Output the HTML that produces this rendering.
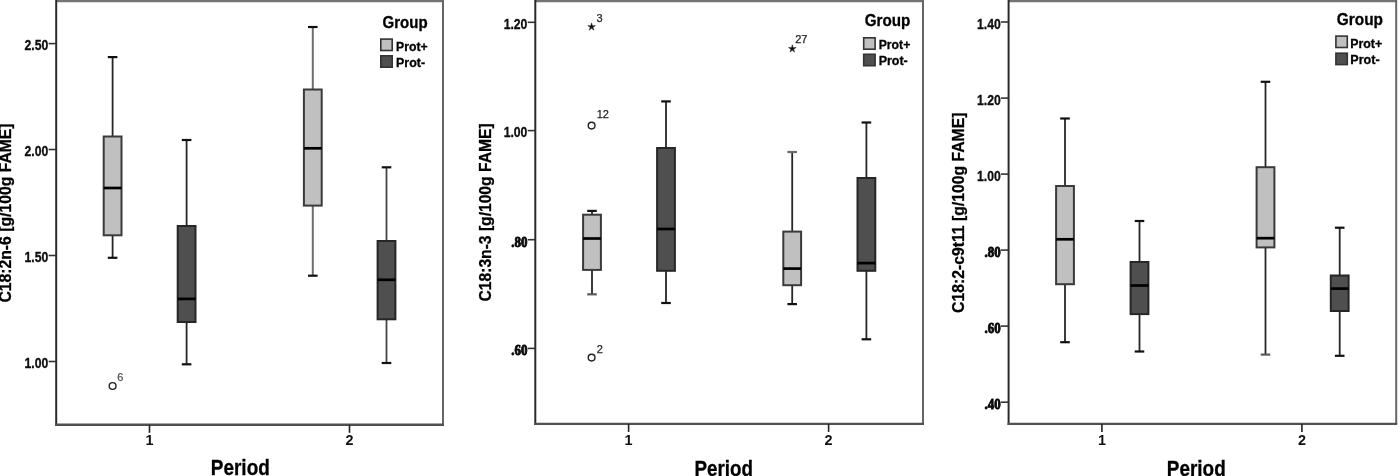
<!DOCTYPE html>
<html><head><meta charset="utf-8"><title>Boxplots</title>
<style>
html,body{margin:0;padding:0;background:#fff;}
body{width:1400px;height:476px;overflow:hidden;}
svg{display:block;filter:blur(0.35px);}
text{font-family:"Liberation Sans", sans-serif;}
.b{font-weight:bold;stroke:#000;stroke-width:0.3px;}
</style></head><body>
<svg width="1400" height="476" viewBox="0 0 1400 476">
<rect x="0" y="0" width="1400" height="476" fill="#fff"/>
<line x1="56.2" y1="1" x2="443" y2="1" stroke="#747474" stroke-width="2.4"/>
<line x1="443" y1="0" x2="443" y2="424.8" stroke="#666" stroke-width="2"/>
<line x1="56.2" y1="0" x2="56.2" y2="425.8" stroke="#2a2a2a" stroke-width="2"/>
<line x1="55.2" y1="424.8" x2="444" y2="424.8" stroke="#505050" stroke-width="2.4"/>
<line x1="48.6" y1="43.6" x2="56.2" y2="43.6" stroke="#333" stroke-width="1.6"/>
<text class="b" x="48.3" y="50.4" font-size="14.2" text-anchor="end" textLength="23.7" lengthAdjust="spacingAndGlyphs" fill="#111">2.50</text>
<line x1="48.6" y1="149.5" x2="56.2" y2="149.5" stroke="#333" stroke-width="1.6"/>
<text class="b" x="48.3" y="156.3" font-size="14.2" text-anchor="end" textLength="23.7" lengthAdjust="spacingAndGlyphs" fill="#111">2.00</text>
<line x1="48.6" y1="255.5" x2="56.2" y2="255.5" stroke="#333" stroke-width="1.6"/>
<text class="b" x="48.3" y="262.3" font-size="14.2" text-anchor="end" textLength="23.7" lengthAdjust="spacingAndGlyphs" fill="#111">1.50</text>
<line x1="48.6" y1="361.5" x2="56.2" y2="361.5" stroke="#333" stroke-width="1.6"/>
<text class="b" x="48.3" y="368.3" font-size="14.2" text-anchor="end" textLength="23.7" lengthAdjust="spacingAndGlyphs" fill="#111">1.00</text>
<line x1="149.5" y1="424.8" x2="149.5" y2="432.8" stroke="#222" stroke-width="1.6"/>
<text class="b" style="stroke-width:0" x="149.5" y="445.4" font-size="14.4" text-anchor="middle" fill="#111">1</text>
<line x1="349.5" y1="424.8" x2="349.5" y2="432.8" stroke="#222" stroke-width="1.6"/>
<text class="b" style="stroke-width:0" x="349.5" y="445.4" font-size="14.4" text-anchor="middle" fill="#111">2</text>
<text class="b" x="210.8" y="474.5" font-size="22" textLength="59" lengthAdjust="spacingAndGlyphs" fill="#000">Period</text>
<text class="b" transform="translate(11.3,302.6) rotate(-90)" x="0" y="0" font-size="17" textLength="179.2" lengthAdjust="spacingAndGlyphs" fill="#000">C18:2n-6 [g/100g FAME]</text>
<text class="b" x="382.5" y="27.6" font-size="16.4" textLength="45.1" lengthAdjust="spacingAndGlyphs" fill="#000">Group</text>
<rect x="380.8" y="39.1" width="11.4" height="11.4" fill="#c0c0c0" stroke="#333" stroke-width="1.6"/>
<text class="b" x="396" y="51" font-size="12.6" textLength="31.6" lengthAdjust="spacingAndGlyphs" fill="#000">Prot+</text>
<rect x="380.8" y="55.8" width="11.4" height="11.4" fill="#4f4f4f" stroke="#333" stroke-width="1.6"/>
<text class="b" x="396" y="67.2" font-size="12.6" textLength="29.07" lengthAdjust="spacingAndGlyphs" fill="#000">Prot-</text>
<line x1="112.6" y1="57.1" x2="112.6" y2="136.5" stroke="#262626" stroke-width="1.8"/>
<line x1="112.6" y1="235.3" x2="112.6" y2="257.8" stroke="#262626" stroke-width="1.8"/>
<line x1="107.8" y1="57.1" x2="117.4" y2="57.1" stroke="#111" stroke-width="2.2"/>
<line x1="107.8" y1="257.8" x2="117.4" y2="257.8" stroke="#111" stroke-width="2.2"/>
<rect x="103.7" y="136.5" width="17.8" height="98.8" fill="#c0c0c0" stroke="#3a3a3a" stroke-width="2"/>
<line x1="103.7" y1="188" x2="121.5" y2="188" stroke="#000" stroke-width="2.7"/>
<line x1="186.6" y1="140" x2="186.6" y2="226" stroke="#262626" stroke-width="1.8"/>
<line x1="186.6" y1="322" x2="186.6" y2="364.3" stroke="#262626" stroke-width="1.8"/>
<line x1="181.8" y1="140" x2="191.4" y2="140" stroke="#111" stroke-width="2.2"/>
<line x1="181.8" y1="364.3" x2="191.4" y2="364.3" stroke="#111" stroke-width="2.2"/>
<rect x="177.7" y="226" width="17.8" height="96" fill="#4f4f4f" stroke="#262626" stroke-width="2"/>
<line x1="177.7" y1="298.9" x2="195.5" y2="298.9" stroke="#000" stroke-width="2.7"/>
<line x1="312.8" y1="27" x2="312.8" y2="89.5" stroke="#6e6e6e" stroke-width="2.0"/>
<line x1="312.8" y1="205.6" x2="312.8" y2="275.7" stroke="#6e6e6e" stroke-width="2.0"/>
<line x1="308" y1="27" x2="317.6" y2="27" stroke="#111" stroke-width="2.2"/>
<line x1="308" y1="275.7" x2="317.6" y2="275.7" stroke="#111" stroke-width="2.2"/>
<rect x="303.9" y="89.5" width="17.8" height="116.1" fill="#c0c0c0" stroke="#3a3a3a" stroke-width="2"/>
<line x1="303.9" y1="148.3" x2="321.7" y2="148.3" stroke="#000" stroke-width="2.7"/>
<line x1="386.5" y1="167.3" x2="386.5" y2="241" stroke="#444" stroke-width="1.8"/>
<line x1="386.5" y1="319.3" x2="386.5" y2="363" stroke="#444" stroke-width="1.8"/>
<line x1="381.7" y1="167.3" x2="391.3" y2="167.3" stroke="#111" stroke-width="2.2"/>
<line x1="381.7" y1="363" x2="391.3" y2="363" stroke="#111" stroke-width="2.2"/>
<rect x="377.6" y="241" width="17.8" height="78.3" fill="#4f4f4f" stroke="#262626" stroke-width="2"/>
<line x1="377.6" y1="279.8" x2="395.4" y2="279.8" stroke="#000" stroke-width="2.7"/>
<circle cx="112.6" cy="386" r="3.4" fill="none" stroke="#222" stroke-width="1.4"/>
<text x="117.3" y="381.2" font-size="11" fill="#555" stroke="#555" stroke-width="0.25">6</text>
<line x1="535.3" y1="1" x2="923" y2="1" stroke="#747474" stroke-width="2.4"/>
<line x1="923" y1="0" x2="923" y2="423.9" stroke="#666" stroke-width="2"/>
<line x1="535.3" y1="0" x2="535.3" y2="424.9" stroke="#2a2a2a" stroke-width="2"/>
<line x1="534.3" y1="423.9" x2="924" y2="423.9" stroke="#505050" stroke-width="2.4"/>
<line x1="527.7" y1="22.3" x2="535.3" y2="22.3" stroke="#333" stroke-width="1.6"/>
<text class="b" x="527.4" y="29.1" font-size="14.2" text-anchor="end" textLength="23.7" lengthAdjust="spacingAndGlyphs" fill="#111">1.20</text>
<line x1="527.7" y1="130.6" x2="535.3" y2="130.6" stroke="#333" stroke-width="1.6"/>
<text class="b" x="527.4" y="137.4" font-size="14.2" text-anchor="end" textLength="23.7" lengthAdjust="spacingAndGlyphs" fill="#111">1.00</text>
<line x1="527.7" y1="239.7" x2="535.3" y2="239.7" stroke="#333" stroke-width="1.6"/>
<text class="b" style="font-family:'Liberation Serif',serif;stroke-width:0.9px" x="527.4" y="246.6" font-size="15.4" text-anchor="end" textLength="16.2" lengthAdjust="spacingAndGlyphs" fill="#111">.80</text>
<line x1="527.7" y1="348.4" x2="535.3" y2="348.4" stroke="#333" stroke-width="1.6"/>
<text class="b" style="font-family:'Liberation Serif',serif;stroke-width:0.9px" x="527.4" y="355.3" font-size="15.4" text-anchor="end" textLength="16.2" lengthAdjust="spacingAndGlyphs" fill="#111">.60</text>
<line x1="628.6" y1="423.9" x2="628.6" y2="431.9" stroke="#222" stroke-width="1.6"/>
<text class="b" style="stroke-width:0" x="628.6" y="444.8" font-size="14.4" text-anchor="middle" fill="#111">1</text>
<line x1="828.6" y1="423.9" x2="828.6" y2="431.9" stroke="#222" stroke-width="1.6"/>
<text class="b" style="stroke-width:0" x="828.6" y="444.8" font-size="14.4" text-anchor="middle" fill="#111">2</text>
<text class="b" x="694.6" y="476" font-size="22" textLength="58.4" lengthAdjust="spacingAndGlyphs" fill="#000">Period</text>
<text class="b" transform="translate(491,301.5) rotate(-90)" x="0" y="0" font-size="17" textLength="178.1" lengthAdjust="spacingAndGlyphs" fill="#000">C18:3n-3 [g/100g FAME]</text>
<text class="b" x="864.7" y="26" font-size="16.4" textLength="45.6" lengthAdjust="spacingAndGlyphs" fill="#000">Group</text>
<rect x="863.7" y="37.8" width="11.4" height="11.4" fill="#c0c0c0" stroke="#333" stroke-width="1.6"/>
<text class="b" x="878.7" y="48.8" font-size="12.6" textLength="31.6" lengthAdjust="spacingAndGlyphs" fill="#000">Prot+</text>
<rect x="863.7" y="54.3" width="11.4" height="11.4" fill="#4f4f4f" stroke="#333" stroke-width="1.6"/>
<text class="b" x="878.7" y="65" font-size="12.6" textLength="29.07" lengthAdjust="spacingAndGlyphs" fill="#000">Prot-</text>
<line x1="592" y1="210.9" x2="592" y2="214.7" stroke="#262626" stroke-width="1.8"/>
<line x1="592" y1="269.9" x2="592" y2="294.3" stroke="#262626" stroke-width="1.8"/>
<line x1="587.2" y1="210.9" x2="596.8" y2="210.9" stroke="#111" stroke-width="2.2"/>
<line x1="587.2" y1="294.3" x2="596.8" y2="294.3" stroke="#5a5a5a" stroke-width="2.2"/>
<rect x="583.1" y="214.7" width="17.8" height="55.2" fill="#c0c0c0" stroke="#3a3a3a" stroke-width="2"/>
<line x1="583.1" y1="238.5" x2="600.9" y2="238.5" stroke="#000" stroke-width="2.7"/>
<line x1="666" y1="101.4" x2="666" y2="148" stroke="#262626" stroke-width="1.8"/>
<line x1="666" y1="270.8" x2="666" y2="303" stroke="#262626" stroke-width="1.8"/>
<line x1="661.2" y1="101.4" x2="670.8" y2="101.4" stroke="#111" stroke-width="2.2"/>
<line x1="661.2" y1="303" x2="670.8" y2="303" stroke="#111" stroke-width="2.2"/>
<rect x="657.1" y="148" width="17.8" height="122.8" fill="#4f4f4f" stroke="#262626" stroke-width="2"/>
<line x1="657.1" y1="229" x2="674.9" y2="229" stroke="#000" stroke-width="2.7"/>
<line x1="792.2" y1="152" x2="792.2" y2="231.6" stroke="#262626" stroke-width="1.8"/>
<line x1="792.2" y1="285.2" x2="792.2" y2="304.1" stroke="#262626" stroke-width="1.8"/>
<line x1="787.4" y1="152" x2="797" y2="152" stroke="#6a6a6a" stroke-width="2.2"/>
<line x1="787.4" y1="304.1" x2="797" y2="304.1" stroke="#111" stroke-width="2.2"/>
<rect x="783.3" y="231.6" width="17.8" height="53.6" fill="#c0c0c0" stroke="#3a3a3a" stroke-width="2"/>
<line x1="783.3" y1="268.6" x2="801.1" y2="268.6" stroke="#000" stroke-width="2.7"/>
<line x1="866.4" y1="122.5" x2="866.4" y2="178" stroke="#262626" stroke-width="1.8"/>
<line x1="866.4" y1="270.8" x2="866.4" y2="339.3" stroke="#262626" stroke-width="1.8"/>
<line x1="861.6" y1="122.5" x2="871.2" y2="122.5" stroke="#111" stroke-width="2.2"/>
<line x1="861.6" y1="339.3" x2="871.2" y2="339.3" stroke="#111" stroke-width="2.2"/>
<rect x="857.5" y="178" width="17.8" height="92.8" fill="#4f4f4f" stroke="#262626" stroke-width="2"/>
<line x1="857.5" y1="263.1" x2="875.3" y2="263.1" stroke="#000" stroke-width="2.7"/>
<polygon points="591.60,22.90 592.39,25.81 595.40,25.66 592.88,27.32 593.95,30.14 591.60,28.25 589.25,30.14 590.32,27.32 587.80,25.66 590.81,25.81" fill="#111" stroke="#111" stroke-width="0.5" stroke-linejoin="miter"/>
<text x="596.6" y="22.4" font-size="11" fill="#222" stroke="#222" stroke-width="0.25">3</text>
<circle cx="591.6" cy="125.6" r="3.4" fill="none" stroke="#222" stroke-width="1.4"/>
<text x="596.7" y="118.4" font-size="11" fill="#222" stroke="#222" stroke-width="0.25">12</text>
<circle cx="591.6" cy="357.6" r="3.4" fill="none" stroke="#222" stroke-width="1.4"/>
<text x="596.7" y="353" font-size="11" fill="#222" stroke="#222" stroke-width="0.25">2</text>
<polygon points="792.30,44.80 793.09,47.71 796.10,47.56 793.58,49.22 794.65,52.04 792.30,50.15 789.95,52.04 791.02,49.22 788.50,47.56 791.51,47.71" fill="#111" stroke="#111" stroke-width="0.5" stroke-linejoin="miter"/>
<text x="795.2" y="43.1" font-size="11" fill="#222" stroke="#222" stroke-width="0.25">27</text>
<line x1="1008.6" y1="1" x2="1396.2" y2="1" stroke="#747474" stroke-width="2.4"/>
<line x1="1396.2" y1="0" x2="1396.2" y2="423.9" stroke="#666" stroke-width="2"/>
<line x1="1008.6" y1="0" x2="1008.6" y2="424.9" stroke="#2a2a2a" stroke-width="2"/>
<line x1="1007.6" y1="423.9" x2="1397.2" y2="423.9" stroke="#505050" stroke-width="2.4"/>
<line x1="1001" y1="22" x2="1008.6" y2="22" stroke="#333" stroke-width="1.6"/>
<text class="b" x="1000.7" y="28.8" font-size="14.2" text-anchor="end" textLength="23.7" lengthAdjust="spacingAndGlyphs" fill="#111">1.40</text>
<line x1="1001" y1="98.1" x2="1008.6" y2="98.1" stroke="#333" stroke-width="1.6"/>
<text class="b" x="1000.7" y="104.9" font-size="14.2" text-anchor="end" textLength="23.7" lengthAdjust="spacingAndGlyphs" fill="#111">1.20</text>
<line x1="1001" y1="174.1" x2="1008.6" y2="174.1" stroke="#333" stroke-width="1.6"/>
<text class="b" x="1000.7" y="180.9" font-size="14.2" text-anchor="end" textLength="23.7" lengthAdjust="spacingAndGlyphs" fill="#111">1.00</text>
<line x1="1001" y1="250.1" x2="1008.6" y2="250.1" stroke="#333" stroke-width="1.6"/>
<text class="b" style="font-family:'Liberation Serif',serif;stroke-width:0.9px" x="1000.7" y="257" font-size="15.4" text-anchor="end" textLength="16.2" lengthAdjust="spacingAndGlyphs" fill="#111">.80</text>
<line x1="1001" y1="326.1" x2="1008.6" y2="326.1" stroke="#333" stroke-width="1.6"/>
<text class="b" style="font-family:'Liberation Serif',serif;stroke-width:0.9px" x="1000.7" y="333" font-size="15.4" text-anchor="end" textLength="16.2" lengthAdjust="spacingAndGlyphs" fill="#111">.60</text>
<line x1="1001" y1="402.2" x2="1008.6" y2="402.2" stroke="#333" stroke-width="1.6"/>
<text class="b" style="font-family:'Liberation Serif',serif;stroke-width:0.9px" x="1000.7" y="409.1" font-size="15.4" text-anchor="end" textLength="16.2" lengthAdjust="spacingAndGlyphs" fill="#111">.40</text>
<line x1="1101.9" y1="423.9" x2="1101.9" y2="431.9" stroke="#222" stroke-width="1.6"/>
<text class="b" style="stroke-width:0" x="1101.9" y="444.8" font-size="14.4" text-anchor="middle" fill="#111">1</text>
<line x1="1301.9" y1="423.9" x2="1301.9" y2="431.9" stroke="#222" stroke-width="1.6"/>
<text class="b" style="stroke-width:0" x="1301.9" y="444.8" font-size="14.4" text-anchor="middle" fill="#111">2</text>
<text class="b" x="1166.8" y="476" font-size="22" textLength="58.9" lengthAdjust="spacingAndGlyphs" fill="#000">Period</text>
<text class="b" transform="translate(964,312.9) rotate(-90)" x="0" y="0" font-size="17" textLength="200.3" lengthAdjust="spacingAndGlyphs" fill="#000">C18:2-c9t11 [g/100g FAME]</text>
<text class="b" x="1336.8" y="24.5" font-size="16.4" textLength="46.2" lengthAdjust="spacingAndGlyphs" fill="#000">Group</text>
<rect x="1335.9" y="36.1" width="11.4" height="11.4" fill="#c0c0c0" stroke="#333" stroke-width="1.6"/>
<text class="b" x="1350.3" y="47.9" font-size="12.6" textLength="31.9" lengthAdjust="spacingAndGlyphs" fill="#000">Prot+</text>
<rect x="1335.9" y="53.2" width="11.4" height="11.4" fill="#4f4f4f" stroke="#333" stroke-width="1.6"/>
<text class="b" x="1350.3" y="64.3" font-size="12.6" textLength="29.35" lengthAdjust="spacingAndGlyphs" fill="#000">Prot-</text>
<line x1="1065" y1="118.5" x2="1065" y2="186" stroke="#262626" stroke-width="1.8"/>
<line x1="1065" y1="284.2" x2="1065" y2="342.2" stroke="#262626" stroke-width="1.8"/>
<line x1="1060.2" y1="118.5" x2="1069.8" y2="118.5" stroke="#111" stroke-width="2.2"/>
<line x1="1060.2" y1="342.2" x2="1069.8" y2="342.2" stroke="#111" stroke-width="2.2"/>
<rect x="1056.1" y="186" width="17.8" height="98.2" fill="#c0c0c0" stroke="#3a3a3a" stroke-width="2"/>
<line x1="1056.1" y1="239.3" x2="1073.9" y2="239.3" stroke="#000" stroke-width="2.7"/>
<line x1="1139.5" y1="221" x2="1139.5" y2="262" stroke="#262626" stroke-width="1.8"/>
<line x1="1139.5" y1="314.1" x2="1139.5" y2="351.5" stroke="#262626" stroke-width="1.8"/>
<line x1="1134.7" y1="221" x2="1144.3" y2="221" stroke="#111" stroke-width="2.2"/>
<line x1="1134.7" y1="351.5" x2="1144.3" y2="351.5" stroke="#111" stroke-width="2.2"/>
<rect x="1130.6" y="262" width="17.8" height="52.1" fill="#4f4f4f" stroke="#262626" stroke-width="2"/>
<line x1="1130.6" y1="285.5" x2="1148.4" y2="285.5" stroke="#000" stroke-width="2.7"/>
<line x1="1265.5" y1="81.8" x2="1265.5" y2="167.2" stroke="#262626" stroke-width="1.8"/>
<line x1="1265.5" y1="247.4" x2="1265.5" y2="354.6" stroke="#262626" stroke-width="1.8"/>
<line x1="1260.7" y1="81.8" x2="1270.3" y2="81.8" stroke="#111" stroke-width="2.2"/>
<line x1="1260.7" y1="354.6" x2="1270.3" y2="354.6" stroke="#5a5a5a" stroke-width="2.2"/>
<rect x="1256.6" y="167.2" width="17.8" height="80.2" fill="#c0c0c0" stroke="#3a3a3a" stroke-width="2"/>
<line x1="1256.6" y1="238.2" x2="1274.4" y2="238.2" stroke="#000" stroke-width="2.7"/>
<line x1="1339.7" y1="227.7" x2="1339.7" y2="275.5" stroke="#262626" stroke-width="1.8"/>
<line x1="1339.7" y1="311" x2="1339.7" y2="355.8" stroke="#262626" stroke-width="1.8"/>
<line x1="1334.9" y1="227.7" x2="1344.5" y2="227.7" stroke="#111" stroke-width="2.2"/>
<line x1="1334.9" y1="355.8" x2="1344.5" y2="355.8" stroke="#111" stroke-width="2.2"/>
<rect x="1330.8" y="275.5" width="17.8" height="35.5" fill="#4f4f4f" stroke="#262626" stroke-width="2"/>
<line x1="1330.8" y1="288.6" x2="1348.6" y2="288.6" stroke="#000" stroke-width="2.7"/>
</svg>
</body></html>
